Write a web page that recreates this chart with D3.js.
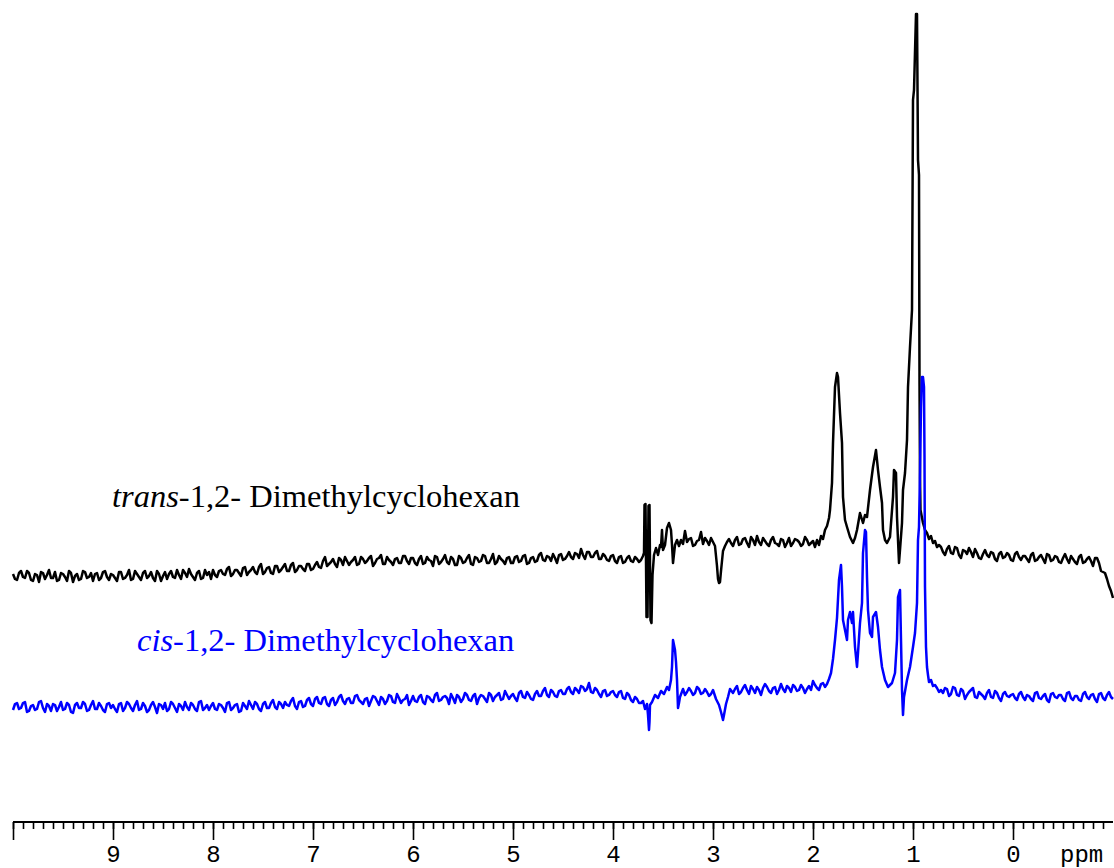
<!DOCTYPE html>
<html>
<head>
<meta charset="utf-8">
<script src="https://cdn.jsdelivr.net/npm/d3@7/dist/d3.min.js"></script>
<style>
  html, body { margin: 0; padding: 0; background: #fff; }
  svg { display: block; }
</style>
</head>
<body>
<div id="chart"></div>
<script>
// ---------------- DATA ----------------
// Chemical-shift axis (ppm)
const majorTicks = [10, 9, 8, 7, 6, 5, 4, 3, 2, 1, 0];
const tickLabels = ["", "9", "8", "7", "6", "5", "4", "3", "2", "1", "0"];
const axisUnit = "ppm";

const seriesNames = ["trans", "cis"];
const seriesLabelsItalic = ["trans", "cis"];
const seriesLabelsRest = ["-1,2- Dimethylcyclohexan", "-1,2- Dimethylcyclohexan"];

// trans: intensities on a 0.04 ppm grid from 10.00 down to 3.76 ppm
const transLeft = [
  2,-4,5,-2,3,-5,1,4,-3,6,-2,-5,3,-1,5,-6,2,-3,4,-1,-5,3,-2,5,-4,
  1,-5,4,-2,6,-3,2,-4,5,0,-2,5,-5,4,2,-1,6,-3,3,7,-1,3,-3,6,4,
  6,-1,6,1,9,2,6,0,9,4,9,2,12,4,9,2,10,6,12,5,13,6,10,5,12,
  7,14,8,19,12,17,9,16,19,11,16,11,19,13,18,10,17,21,12,16,11,18,13,20,12,
  18,11,20,13,16,10,19,14,21,12,17,11,18,14,21,11,18,15,20,13,22,14,17,12,19,
  13,20,15,21,13,19,15,23,15,19,22,13,22,17,24,17,22,27,17,24,19,25,17,20,15,
  21,13,20,14,20,14,17
];
// trans: intensities half-way between those grid points (9.98 ... 3.74 ppm)
const transLeftMid = [
  -3,3,-1,5,-4,2,-6,3,1,-2,4,-4,2,-5,3,0,-4,5,-2,3,2,-4,4,-1,2,
  -2,4,-3,1,-4,5,-1,3,-2,4,-5,2,0,-3,5,-2,1,6,-1,2,-4,5,-2,1,-3,
  1,5,2,7,0,6,3,8,1,6,4,9,2,8,3,10,4,9,5,11,4,10,7,12,6,
  11,9,15,10,14,12,18,11,15,14,19,12,17,15,20,13,18,12,19,14,17,13,20,15,18,
  13,17,12,19,15,20,12,17,14,19,11,20,13,18,12,19,14,21,13,17,12,20,15,18,13,
  19,14,20,12,18,14,21,16,20,15,18,21,16,20,19,23,18,21,24,19,23,17,22,16,20,
  15,19,13,18,15,19,14
];
// trans: [ppm, intensity] from 3.72 to 0.74 ppm
const transMiddle = [
  [3.72,16],[3.70,20],[3.69,23],[3.685,71],[3.675,72],[3.665,-41],[3.655,-41],[3.645,70],[3.635,71],
  [3.625,-44],[3.615,-47],[3.605,1],[3.59,21],[3.57,28],[3.55,21],[3.53,31],[3.52,29],[3.51,46],[3.50,26],
  [3.48,31],[3.46,48],[3.44,53],[3.42,46],[3.41,31],[3.40,13],[3.38,31],[3.36,36],[3.34,30],
  [3.32,36],[3.30,32],[3.28,45],[3.26,34],[3.24,37],[3.22,38],[3.20,30],[3.18,31],[3.16,35],[3.14,36],
  [3.12,44],[3.10,32],[3.08,38],[3.06,35],[3.04,31],[3.02,38],[3.00,34],
  [2.98,30],[2.96,10],[2.95,-3],[2.94,-7],[2.93,-6],[2.92,5],[2.90,25],[2.88,30],[2.86,34],
  [2.84,37],[2.82,33],[2.80,30],[2.78,36],[2.76,39],[2.74,31],[2.72,32],[2.70,37],[2.68,38],[2.66,33],
  [2.64,29],[2.62,39],[2.60,36],[2.58,31],[2.56,40],[2.54,34],[2.52,31],[2.50,38],[2.48,35],[2.46,32],
  [2.44,30],[2.42,36],[2.40,39],[2.38,33],[2.36,32],[2.34,30],[2.32,37],[2.30,36],[2.28,29],[2.26,33],
  [2.24,38],[2.22,30],[2.20,33],[2.18,37],[2.16,36],[2.14,34],[2.12,30],[2.10,32],[2.08,39],[2.06,36],
  [2.04,31],[2.02,33],[2.00,35],
  [1.98,29],[1.96,36],[1.94,31],[1.92,40],[1.90,37],[1.88,46],[1.86,50],[1.84,58],[1.83,66],[1.81,93],
  [1.80,133],[1.78,189],[1.76,203],[1.75,199],[1.73,163],[1.71,133],[1.70,79],[1.68,56],[1.66,49],[1.63,39],
  [1.60,33],[1.58,38],[1.56,46],[1.53,63],[1.50,53],[1.48,61],[1.46,59],[1.43,86],[1.40,109],[1.37,126],[1.35,106],
  [1.33,89],[1.31,73],[1.30,46],[1.28,36],[1.26,33],[1.23,39],[1.20,79],[1.19,106],[1.17,103],[1.16,59],
  [1.14,13],[1.13,26],[1.11,53],[1.10,86],[1.08,103],[1.06,136],[1.05,189],[1.03,229],[1.01,266],
  [1.00,476],[0.99,486],[0.97,562],[0.96,562],[0.95,416],[0.94,401],[0.935,193],[0.93,99],
  [0.925,66],[0.90,53],[0.88,46],[0.86,43],[0.84,37],[0.82,40],[0.80,33],[0.78,35],[0.76,29],[0.74,31]
];
// trans: intensities on a 0.04 ppm grid from 0.72 down to -1.00 ppm
const transRight = [
  29,21,30,22,28,18,25,28,19,23,17,26,19,23,15,24,19,21,15,24,
  16,20,14,23,16,21,13,21,16,19,13,22,13,17,12,21,14,19,10,18,
  5,3,-10,-22
];
const transRightMid = [
  24,27,23,29,21,26,22,24,27,18,22,21,24,17,22,18,23,16,22,19,
  20,17,21,15,19,17,22,15,20,14,18,17,20,14,19,13,17,15,18,13,
  4,-3,-15
];

// cis: intensities on a 0.04 ppm grid from 10.00 down to 3.76 ppm
const cisLeft = [
  -3,4,-1,5,-4,2,-2,6,-5,1,3,-4,5,-2,2,-6,4,-1,3,-3,6,-2,1,-5,4,
  2,-5,4,-1,3,-4,6,-2,1,-3,5,-6,2,4,-2,3,-5,1,5,-3,2,-4,6,-1,-3,
  4,-3,2,-5,5,-1,3,-4,1,6,-2,3,-4,5,-1,7,-2,3,5,1,9,-2,6,1,9,
  1,10,3,10,1,9,5,12,3,9,4,12,5,8,1,11,6,10,3,12,5,13,4,8,2,
  11,5,12,3,10,5,14,7,11,3,9,12,5,14,7,11,3,12,8,14,6,12,7,16,8,
  13,6,16,9,12,7,16,11,19,10,15,10,17,13,20,13,17,21,16,24,14,17,10,17,12,
  16,10,16,8,12,5,8
];
const cisLeftMid = [
  3,-2,4,-5,1,-3,5,-1,3,-4,2,0,-3,4,-5,2,-1,5,-4,2,-2,4,-3,3,-1,
  -2,3,-4,5,-1,2,-3,4,-5,2,0,3,-2,-4,5,-1,3,-3,0,4,-2,5,-3,2,1,
  -2,3,-1,4,-3,2,-5,4,-2,2,5,-2,3,-1,4,0,5,-1,2,6,1,5,0,7,3,
  8,4,9,3,7,2,10,6,8,4,11,7,3,9,6,10,2,8,6,11,4,9,7,12,6,
  6,10,5,11,7,12,6,10,9,13,4,10,8,12,6,13,9,11,5,12,10,14,8,12,11,
  9,14,10,15,8,13,11,16,12,17,11,16,13,18,15,19,14,20,18,15,19,13,16,11,15,
  12,15,9,14,7,10,4
];
// cis: [ppm, intensity] from 3.72 to 0.74 ppm
const cisMiddle = [
  [3.72,4],[3.70,6],[3.68,-2],[3.66,3],[3.65,-8],[3.64,-23],[3.635,-15],[3.63,2],[3.61,5],[3.58,12],
  [3.55,9],[3.52,16],[3.49,13],[3.46,20],[3.44,17],[3.42,27],[3.41,40],[3.40,67],[3.39,62],[3.38,57],
  [3.37,45],[3.36,27],[3.35,-1],[3.34,4],[3.33,10],[3.30,18],[3.28,12],[3.26,15],
  [3.24,19],[3.22,16],[3.20,12],[3.18,14],[3.16,20],[3.14,18],[3.12,13],[3.10,14],[3.08,18],[3.06,15],
  [3.04,11],[3.02,13],[3.00,17],
  [2.97,8],[2.94,2],[2.92,-5],[2.90,-13],[2.89,-8],[2.87,3],[2.85,10],[2.83,18],
  [2.80,14],[2.78,18],[2.76,21],[2.74,13],[2.72,15],[2.70,19],[2.68,22],[2.66,17],[2.64,13],[2.62,21],
  [2.60,18],[2.58,14],[2.56,20],[2.54,17],[2.52,12],[2.50,19],[2.48,23],[2.46,20],[2.44,16],[2.42,14],
  [2.40,19],[2.38,20],[2.36,13],[2.34,17],[2.32,23],[2.30,18],[2.28,15],[2.26,21],[2.24,19],[2.22,15],
  [2.20,22],[2.18,20],[2.16,16],[2.14,17],[2.12,22],[2.10,19],[2.08,14],[2.06,18],[2.04,21],[2.02,17],
  [2.00,26],[1.98,22],[1.96,19],[1.94,17],[1.92,23],[1.90,24],[1.88,20],[1.86,23],
  [1.84,28],[1.82,34],[1.80,48],[1.78,67],[1.76,89],[1.74,127],[1.72,142],[1.71,120],[1.70,87],
  [1.68,77],[1.66,67],[1.65,87],[1.63,95],[1.61,84],[1.60,95],[1.58,60],[1.56,40],[1.55,54],
  [1.53,84],[1.51,104],[1.50,154],[1.48,177],[1.47,175],[1.46,130],[1.45,97],[1.43,74],[1.41,70],
  [1.40,90],[1.37,95],[1.35,80],[1.33,57],[1.31,40],[1.28,27],[1.25,20],[1.21,24],[1.18,34],
  [1.16,67],[1.15,110],[1.13,117],[1.12,67],[1.11,17],[1.10,-8],[1.09,10],[1.06,27],[1.03,40],
  [1.00,60],[0.98,74],[0.96,104],[0.95,167],[0.94,180],[0.93,234],[0.92,300],[0.91,330],[0.90,330],
  [0.89,320],[0.885,250],[0.88,120],[0.87,60],[0.86,40],[0.85,32],[0.84,25],[0.82,27],[0.80,21],
  [0.78,22],[0.76,19],[0.74,15]
];
// cis: intensities on a 0.04 ppm grid from 0.72 down to -1.00 ppm
const cisRight = [
  17,19,11,20,12,18,8,15,19,9,13,8,17,9,14,6,15,10,13,7,
  15,7,11,6,15,8,13,5,14,9,12,6,15,7,11,6,15,8,13,5,
  14,7,15,8
];
const cisRightMid = [
  14,18,13,19,11,16,12,17,10,15,11,14,10,16,9,13,11,12,9,13,
  10,12,8,14,9,11,7,13,10,12,8,14,9,11,7,13,10,12,8,13,
  9,12,10
];

// ---------------- LAYOUT ----------------
const W = 1114, H = 868;
const gridStep = 0.04;
const offsets = { trans: 144, cis: 13 };
const colors = { trans: "#000000", cis: "#0000ff" };

function onGrid(start, values, mids) {
  const out = [];
  values.forEach((v, i) => {
    const p = start - i * gridStep;
    out.push([+p.toFixed(3), v]);
    if (i < mids.length) out.push([+(p - gridStep / 2).toFixed(3), mids[i]]);
  });
  return out;
}
const byPpm = (a, b) => b[0] - a[0];
const spectra = {
  trans: [...onGrid(10, transLeft, transLeftMid), ...transMiddle, ...onGrid(0.72, transRight, transRightMid)].sort(byPpm),
  cis: [...onGrid(10, cisLeft, cisLeftMid), ...cisMiddle, ...onGrid(0.72, cisRight, cisRightMid)].sort(byPpm)
};

const svg = d3.select("#chart").append("svg")
  .attr("width", W).attr("height", H)
  .attr("viewBox", `0 0 ${W} ${H}`);

const x = d3.scaleLinear().domain([10, -1]).range([13, 1113]);
const y = d3.scaleLinear().domain([0, 700]).range([720, 20]);

// spectra (trans first, cis on top)
seriesNames.forEach(name => {
  const off = offsets[name];
  const line = d3.line().x(d => x(d[0])).y(d => y(d[1] + off));
  svg.append("path")
    .datum(spectra[name])
    .attr("fill", "none")
    .attr("stroke", colors[name])
    .attr("stroke-width", 2.5)
    .attr("stroke-linejoin", "round")
    .attr("d", line);
});

// labels
const labelPos = { trans: [112, 507], cis: [137, 651] };
seriesNames.forEach((name, i) => {
  const t = svg.append("text")
    .attr("x", labelPos[name][0]).attr("y", labelPos[name][1])
    .attr("fill", colors[name])
    .style("font-family", "'Liberation Serif', 'Times New Roman', serif")
    .style("font-size", "32.5px");
  t.append("tspan").style("font-style", "italic").text(seriesLabelsItalic[i]);
  t.append("tspan").text(seriesLabelsRest[i]);
});

// axis
const axisY = 822;
const minorTicks = d3.range(100, -10, -1).map(d => d / 10);
const gMinor = svg.append("g").attr("transform", `translate(0,${axisY})`)
  .call(d3.axisBottom(x).tickValues(minorTicks).tickSize(7).tickSizeOuter(0).tickFormat(""));
const gMajor = svg.append("g").attr("transform", `translate(0,${axisY})`)
  .call(d3.axisBottom(x).tickValues(majorTicks).tickSize(18).tickSizeOuter(0)
    .tickFormat((d, i) => tickLabels[i]));

[gMinor, gMajor].forEach(g => {
  g.selectAll(".tick line").attr("stroke", "#000").attr("stroke-width", 1.6);
});
gMinor.select(".domain").remove();
gMajor.select(".domain").attr("stroke", "#000").attr("stroke-width", 2)
  .attr("d", `M${x(10)},0H${x(-1)}`);
gMajor.selectAll(".tick text")
  .attr("y", 40).attr("dy", 0)
  .attr("fill", "#000")
  .style("font-family", "'Liberation Mono', 'Courier New', monospace")
  .style("font-size", "24px");

svg.append("text")
  .attr("x", 1060).attr("y", axisY + 40)
  .attr("fill", "#000")
  .style("font-family", "'Liberation Mono', 'Courier New', monospace")
  .style("font-size", "24px")
  .text(axisUnit);
</script>
</body>
</html>
